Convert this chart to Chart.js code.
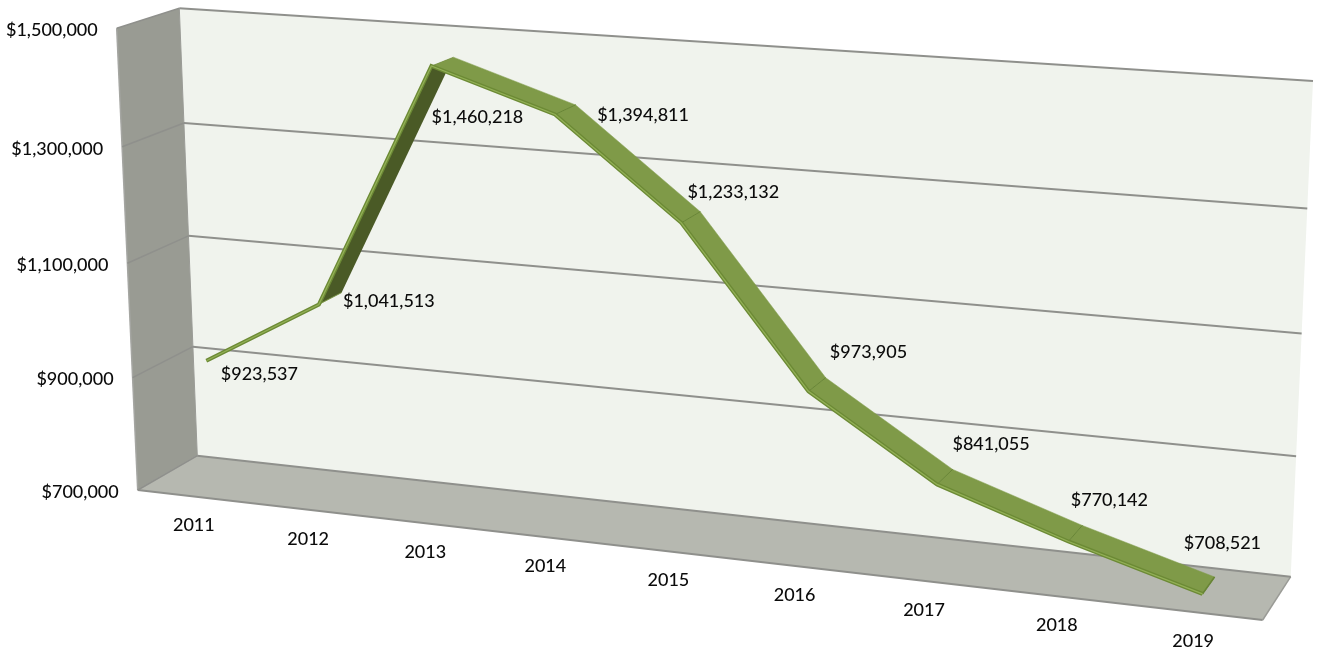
<!DOCTYPE html>
<html>
<head>
<meta charset="utf-8">
<style>
html,body{margin:0;padding:0;background:#fff}
canvas{display:block}
</style>
<script src="https://cdn.jsdelivr.net/npm/chart.js@4/dist/chart.umd.js"></script>
</head>
<body>
<canvas id="c" width="1317" height="649"></canvas>
<script>
// Yearly totals
const years = ['2011','2012','2013','2014','2015','2016','2017','2018','2019'];
const totals = [923537,1041513,1460218,1394811,1233132,973905,841055,770142,708521];
const axisMin = 700000;
const axisMax = 1500000;
const axisStep = 200000;

// Corners of the 3D box on screen: [left-bottom, right-bottom, right-top, left-top]
const frontFace = [[137.7,490],[1262.7,620],[1284.7,106],[116.7,28.3]];
const backFace  = [[197.3,455.7],[1290.7,576.7],[1313,81],[179.3,8.3]];
// Depth range of the ribbon inside the box (0 = front, 1 = back)
const ribbonNear = 0.30;
const ribbonFar = 0.70;
// Data label centres relative to the ribbon's front edge
const labelShift = [[53,13],[70,-3],[46,51],[88,1],[52,-31],[60,-39],[54,-40],[41,-41],[20,-51]];

const FONT = '500 18px Lato, "Open Sans", sans-serif';

function homography(q){
  const [[x0,y0],[x1,y1],[x2,y2],[x3,y3]] = q;
  const sx=x0-x1+x2-x3, sy=y0-y1+y2-y3;
  const dx1=x1-x2, dx2=x3-x2, dy1=y1-y2, dy2=y3-y2;
  const den=dx1*dy2-dx2*dy1;
  const g=(sx*dy2-dx2*sy)/den, h=(dx1*sy-sx*dy1)/den;
  const a=x1-x0+g*x1, b=x3-x0+h*x3, d=y1-y0+g*y1, e=y3-y0+h*y3;
  return (u,v)=>{
    const w=g*u+h*v+1;
    return [(a*u+b*v+x0)/w,(d*u+e*v+y0)/w];
  };
}
const frontMap = homography(frontFace);
const backMap = homography(backFace);
// u along the categories, v up the value axis, w into the depth of the box
function project(u,v,w){
  const f=frontMap(u,v), b=backMap(u,v);
  return [f[0]+(b[0]-f[0])*w, f[1]+(b[1]-f[1])*w];
}

function poly(ctx,pts,fill,stroke,lw){
  ctx.beginPath();
  pts.forEach((p,i)=>i?ctx.lineTo(p[0],p[1]):ctx.moveTo(p[0],p[1]));
  ctx.closePath();
  if(fill){ctx.fillStyle=fill;ctx.fill();}
  if(stroke){ctx.strokeStyle=stroke;ctx.lineWidth=lw||1;ctx.stroke();}
}
function seg(ctx,a,b,color,lw){
  ctx.beginPath();ctx.moveTo(a[0],a[1]);ctx.lineTo(b[0],b[1]);
  ctx.strokeStyle=color;ctx.lineWidth=lw;ctx.stroke();
}
function vOf(chart,val){
  const s=chart.scales.y;
  return (s.bottom-s.getPixelForValue(val))/s.height;
}

const box3d = {
  id:'box3d',
  beforeDatasetsDraw(chart){
    const ctx=chart.ctx, grid='#8f908c';
    ctx.save();
    ctx.lineJoin='round';
    // back wall, side wall, floor
    poly(ctx,[project(0,0,1),project(1,0,1),project(1,1,1),project(0,1,1)],'#f0f3ed');
    poly(ctx,[project(0,0,0),project(0,0,1),project(0,1,1),project(0,1,0)],'#999b93');
    poly(ctx,[project(0,0,0),project(1,0,0),project(1,0,1),project(0,0,1)],'#b6b8b0');
    seg(ctx,project(0,0,0),project(0,1,0),'#a5a6a2',1.5);
    seg(ctx,project(0,0,0),project(0,0,1),'#a5a6a2',1.5);
    seg(ctx,project(0,0,1),project(0,1,1),'#9a9b96',1);
    seg(ctx,project(0,0,0),project(1,0,0),grid,2);
    seg(ctx,project(1,0,0),project(1,0,1),'#9a9b96',1.5);
    // gridlines follow the value axis ticks
    chart.scales.y.ticks.forEach(t=>{
      const v=vOf(chart,t.value);
      seg(ctx,project(0,v,0),project(0,v,1),grid,1.5);
      seg(ctx,project(0,v,1),project(1,v,1),grid,2);
    });
    // value axis labels
    ctx.font=FONT;ctx.fillStyle='#0b0b0b';ctx.textBaseline='middle';ctx.textAlign='right';
    chart.scales.y.ticks.forEach(t=>{
      const p=project(0,vOf(chart,t.value),0);
      ctx.fillText(t.label,p[0]-19,p[1]+2);
    });
    // category labels
    ctx.textAlign='center';
    const xs=chart.scales.x;
    xs.ticks.forEach((t,i)=>{
      const u=(xs.getPixelForTick(i)-xs.left)/xs.width;
      const p=project(u,0,0);
      ctx.fillText(t.label,p[0],p[1]+29);
    });
    ctx.restore();
  },
  beforeDatasetDraw(chart,args){
    const ctx=chart.ctx, area=chart.chartArea;
    const pts=chart.getDatasetMeta(args.index).data;
    const uv=pts.map(p=>[(p.x-area.left)/area.width,(area.bottom-p.y)/area.height]);
    const near=uv.map(q=>project(q[0],q[1],ribbonNear));
    const far=uv.map(q=>project(q[0],q[1],ribbonFar));
    ctx.save();
    ctx.lineJoin='miter';
    const quads=[];
    for(let i=0;i<near.length-1;i++){
      const sx=near[i+1][0]-near[i][0], sy=near[i+1][1]-near[i][1];
      const dx=far[i][0]-near[i][0], dy=far[i][1]-near[i][1];
      quads.push({q:[near[i],near[i+1],far[i+1],far[i]],under:sx*dy-sy*dx>0});
    }
    quads.filter(s=>s.under).forEach(s=>poly(ctx,s.q,'#4a5a26'));
    quads.filter(s=>!s.under).forEach(s=>poly(ctx,s.q,'#7f9a48','#7f9a48',0.5));
    // joints between the upper-face segments
    for(let i=1;i<near.length;i++){
      if(quads[i-1].under || (i<quads.length && quads[i].under)) continue;
      seg(ctx,near[i],far[i],'#688536',1);
    }
    seg(ctx,near[near.length-1],far[far.length-1],'#688536',1.5);
    // raised front rim
    const rim=(color,lw)=>{
      ctx.beginPath();
      near.forEach((p,i)=>i?ctx.lineTo(p[0],p[1]):ctx.moveTo(p[0],p[1]));
      ctx.strokeStyle=color;ctx.lineWidth=lw;ctx.stroke();
    };
    rim('#6c8a35',4);
    rim('#93b057',1.3);
    ctx.restore();
    return false;
  },
  afterDatasetsDraw(chart){
    const ctx=chart.ctx, area=chart.chartArea;
    const pts=chart.getDatasetMeta(0).data;
    ctx.save();
    ctx.font=FONT;ctx.fillStyle='#0b0b0b';ctx.textAlign='center';ctx.textBaseline='middle';
    pts.forEach((p,i)=>{
      const a=project((p.x-area.left)/area.width,(area.bottom-p.y)/area.height,ribbonNear);
      const text='$'+totals[i].toLocaleString('en-US');
      ctx.fillText(text,a[0]+labelShift[i][0],a[1]+labelShift[i][1]);
    });
    ctx.restore();
  }
};

new Chart(document.getElementById('c'),{
  type:'line',
  data:{labels:years,datasets:[{data:totals,borderColor:'#7f9a48',backgroundColor:'#7f9a48',pointRadius:0}]},
  options:{
    responsive:false,
    animation:false,
    layout:{padding:0},
    plugins:{legend:{display:false},tooltip:{enabled:false}},
    scales:{
      x:{display:false,offset:true},
      y:{display:false,min:axisMin,max:axisMax,
         ticks:{stepSize:axisStep,callback:v=>'$'+Number(v).toLocaleString('en-US')}}
    }
  },
  plugins:[box3d]
});
</script>
</body>
</html>
